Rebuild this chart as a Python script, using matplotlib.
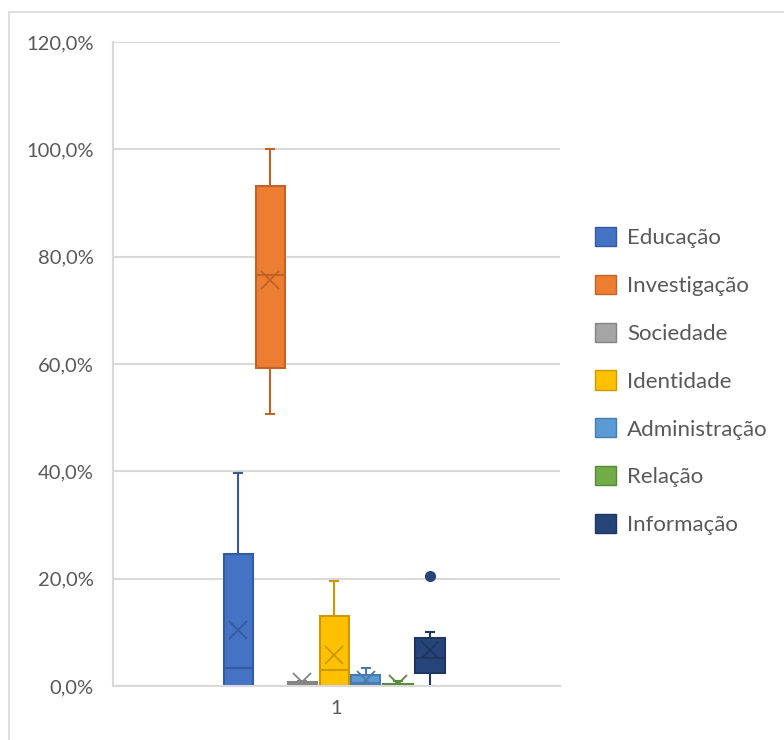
import matplotlib.pyplot as plt
from matplotlib.patches import Patch, Rectangle
from matplotlib.ticker import FuncFormatter
from matplotlib.colors import to_rgb

plt.rcParams['font.family'] = ['Lato', 'DejaVu Sans']

# Series (values in %)
categories = ['Educação', 'Investigação', 'Sociedade', 'Identidade',
              'Administração', 'Relação', 'Informação']
colors = ['#4472C4', '#ED7D31', '#A5A5A5', '#FFC000', '#5B9BD5', '#70AD47', '#264478']
whis_lo = [0.0, 50.6, 0.0, 0.0, 0.2, 0.0, 0.0]
q1 = [0.0, 59.2, 0.0, 0.0, 0.2, 0.0, 2.4]
median = [3.3, 76.5, 0.4, 2.9, 0.6, 0.1, 5.3]
q3 = [24.6, 93.2, 0.8, 13.0, 2.0, 0.3, 9.0]
whis_hi = [39.6, 100.0, 1.0, 19.6, 3.4, 1.0, 10.1]
mean = [10.4, 75.6, 0.7, 5.8, 1.1, 0.3, 6.7]
fliers = [[], [], [], [], [], [], [20.5]]
x_label = '1'


def darker(c, f=0.8):
    r, g, b = to_rgb(c)
    return (r * f, g * f, b * f)


fig = plt.figure(figsize=(7.84, 7.40), dpi=100)
# outer chart border (top/left visible)
fig.patches.append(Rectangle((9 / 784, -0.1), 1.2, 1 - 12 / 740 + 0.1,
                             transform=fig.transFigure, fill=False,
                             edgecolor='#d9d9d9', linewidth=1.2))

ax = fig.add_axes([113 / 784, 1 - 686 / 740, 447 / 784, 644 / 740])

step = 32 / 447
width = 29 / 447
positions = [1 + (i - 3) * step - 2.5 / 447 for i in range(len(categories))]

for i, name in enumerate(categories):
    st = [{'med': median[i], 'q1': q1[i], 'q3': q3[i],
           'whislo': whis_lo[i], 'whishi': whis_hi[i],
           'mean': mean[i], 'fliers': fliers[i], 'label': name}]
    c = colors[i]
    dk = darker(c)
    ax.bxp(st, positions=[positions[i]], widths=width, capwidths=8 / 447,
           showmeans=True, patch_artist=True, manage_ticks=False,
           boxprops=dict(facecolor=c, edgecolor=dk, linewidth=1.5),
           medianprops=dict(color=dk, linewidth=1.5),
           whiskerprops=dict(color=dk, linewidth=1.5),
           capprops=dict(color=dk, linewidth=1.5),
           meanprops=dict(marker='x', markeredgecolor=dk, markersize=13,
                          markeredgewidth=1.3),
           flierprops=dict(marker='o', markerfacecolor=c, markeredgecolor=c,
                           markersize=7))

ax.set_xlim(0.5, 1.5)
ax.set_ylim(0, 120)
ax.set_yticks(range(0, 121, 20))
ax.yaxis.set_major_formatter(FuncFormatter(lambda v, p: f'{v:.1f}%'.replace('.', ',')))
ax.set_xticks([1])
ax.set_xticklabels([x_label])
ax.tick_params(length=0, labelsize=14.5, colors='#595959', pad=10)
ax.tick_params(axis='y', pad=14)
ax.grid(axis='y', color='#d9d9d9', linewidth=1.5)
ax.set_axisbelow(True)
for s in ['top', 'right']:
    ax.spines[s].set_visible(False)
for s in ['left', 'bottom']:
    ax.spines[s].set_color('#d9d9d9')
    ax.spines[s].set_linewidth(1.5)

handles = [Patch(facecolor=c, edgecolor=darker(c)) for c in colors]
fig.legend(handles, categories, loc='center left',
           bbox_to_anchor=(575 / 784, 1 - 381 / 740), frameon=False,
           fontsize=16, labelcolor='#595959', handlelength=0.95,
           handleheight=0.95, handletextpad=0.5, labelspacing=1.2)

fig.savefig('out.png', dpi=100)
